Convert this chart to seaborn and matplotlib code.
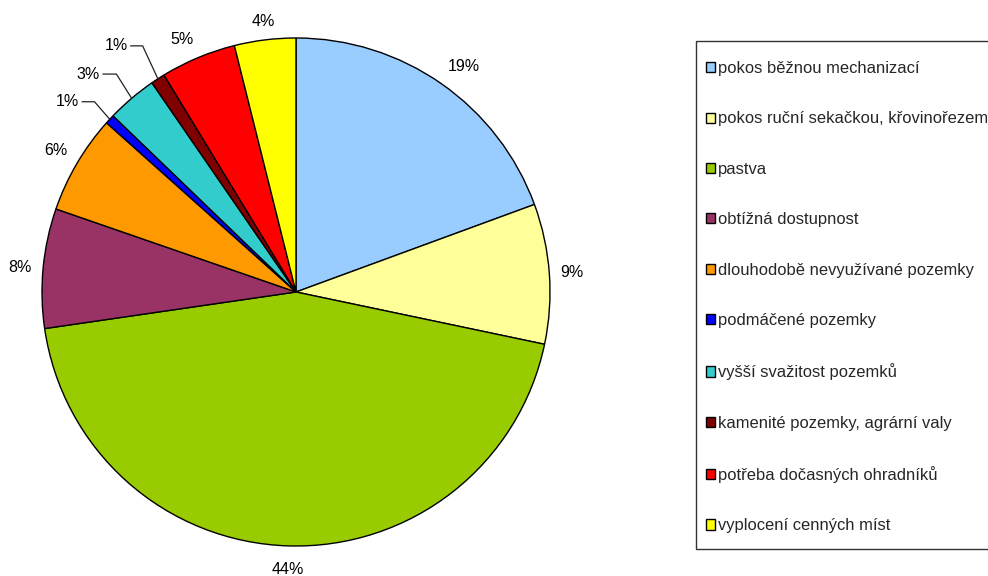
import numpy as np
import matplotlib
matplotlib.use("Agg")
import matplotlib.pyplot as plt
from matplotlib.patches import Rectangle
import seaborn as sns

sns.set_theme(style="white")
plt.rcParams["font.family"] = ["Liberation Sans", "DejaVu Sans"]

# Share of land-management categories (percent)
categories = [
    "pokos běžnou mechanizací",
    "pokos ruční sekačkou, křovinořezem",
    "pastva",
    "obtížná dostupnost",
    "dlouhodobě nevyužívané pozemky",
    "podmáčené pozemky",
    "vyšší svažitost pozemků",
    "kamenité pozemky, agrární valy",
    "potřeba dočasných ohradníků",
    "vyplocení cenných míst",
]
shares = [19.4, 8.9, 44.4, 7.6, 6.3, 0.6, 3.2, 0.9, 4.8, 3.9]
colors = ["#99CCFF", "#FFFF99", "#99CC00", "#993366", "#FF9900",
          "#0000FF", "#33CCCC", "#800000", "#FF0000", "#FFFF00"]

# Small slices whose labels sit aside with a leader line: index -> label anchor (right edge)
leader_labels = {5: (-0.854, 0.749), 6: (-0.772, 0.858), 7: (-0.663, 0.969)}

W, H, DPI = 988, 576, 100
fig = plt.figure(figsize=(W / DPI, H / DPI), dpi=DPI)
fig.patch.set_facecolor("white")

# Pie axes: centre at (296, 292) px, radius 254 px
cx, cy, rad = 296, 292, 254
k = 1.2
half = rad * k
ax = fig.add_axes([(cx - half) / W, (H - cy - half) / H, 2 * half / W, 2 * half / H])

wedges, _ = ax.pie(shares, colors=colors, startangle=90, counterclock=False,
                   radius=1.0,
                   wedgeprops=dict(edgecolor="black", linewidth=1.0))
ax.set_xlim(-k, k)
ax.set_ylim(-k, k)
ax.set_aspect("equal")
ax.set_axis_off()

label_fs = 11.5
total = sum(shares)
cum = 0.0
for i, v in enumerate(shares):
    mid = (cum + v / 2) / total * 2 * np.pi
    cum += v
    s, c = np.sin(mid), np.cos(mid)
    label = f"{v:.0f}%"
    if i in leader_labels:
        tx, ty = leader_labels[i]
        ax.text(tx, ty, label, ha="right", va="center", fontsize=label_fs, color="black")
        ex, ey = 1.0 * s, 1.0 * c
        x0 = tx + 0.01
        x1 = ex - 0.06
        ax.plot([x0, x1, ex], [ty, ty, ey], color="#222222", lw=0.9,
                solid_capstyle="butt")
        continue
    r = 1.045
    px, py = r * s, r * c
    ha = "left" if s > 0.2 else ("right" if s < -0.2 else "center")
    va = "bottom" if c > 0.2 else ("top" if c < -0.2 else "center")
    if va == "top":
        py -= 0.02
    ax.text(px, py, label, ha=ha, va=va, fontsize=label_fs, color="black")

# Legend frame (runs off the right edge of the figure)
box_l, box_t, box_b = 695.5, 41, 549
fig.patches.append(Rectangle((box_l / W, 1 - box_b / H), (W + 20 - box_l) / W,
                             (box_b - box_t) / H, transform=fig.transFigure,
                             facecolor="white", edgecolor="#333333", lw=1.0,
                             zorder=0))

leg = fig.legend(wedges, categories, loc="upper left",
                 bbox_to_anchor=(705.5 / W, 1 - 61 / H),
                 bbox_transform=fig.transFigure,
                 fontsize=11.85, frameon=False,
                 handlelength=0.57, handleheight=0.57, handletextpad=0.2,
                 borderpad=0.0, labelspacing=2.15, borderaxespad=0.0)
for h in leg.legend_handles:
    h.set_edgecolor("black")
    h.set_linewidth(1.0)

fig.savefig("out.png", dpi=DPI, facecolor="white")
